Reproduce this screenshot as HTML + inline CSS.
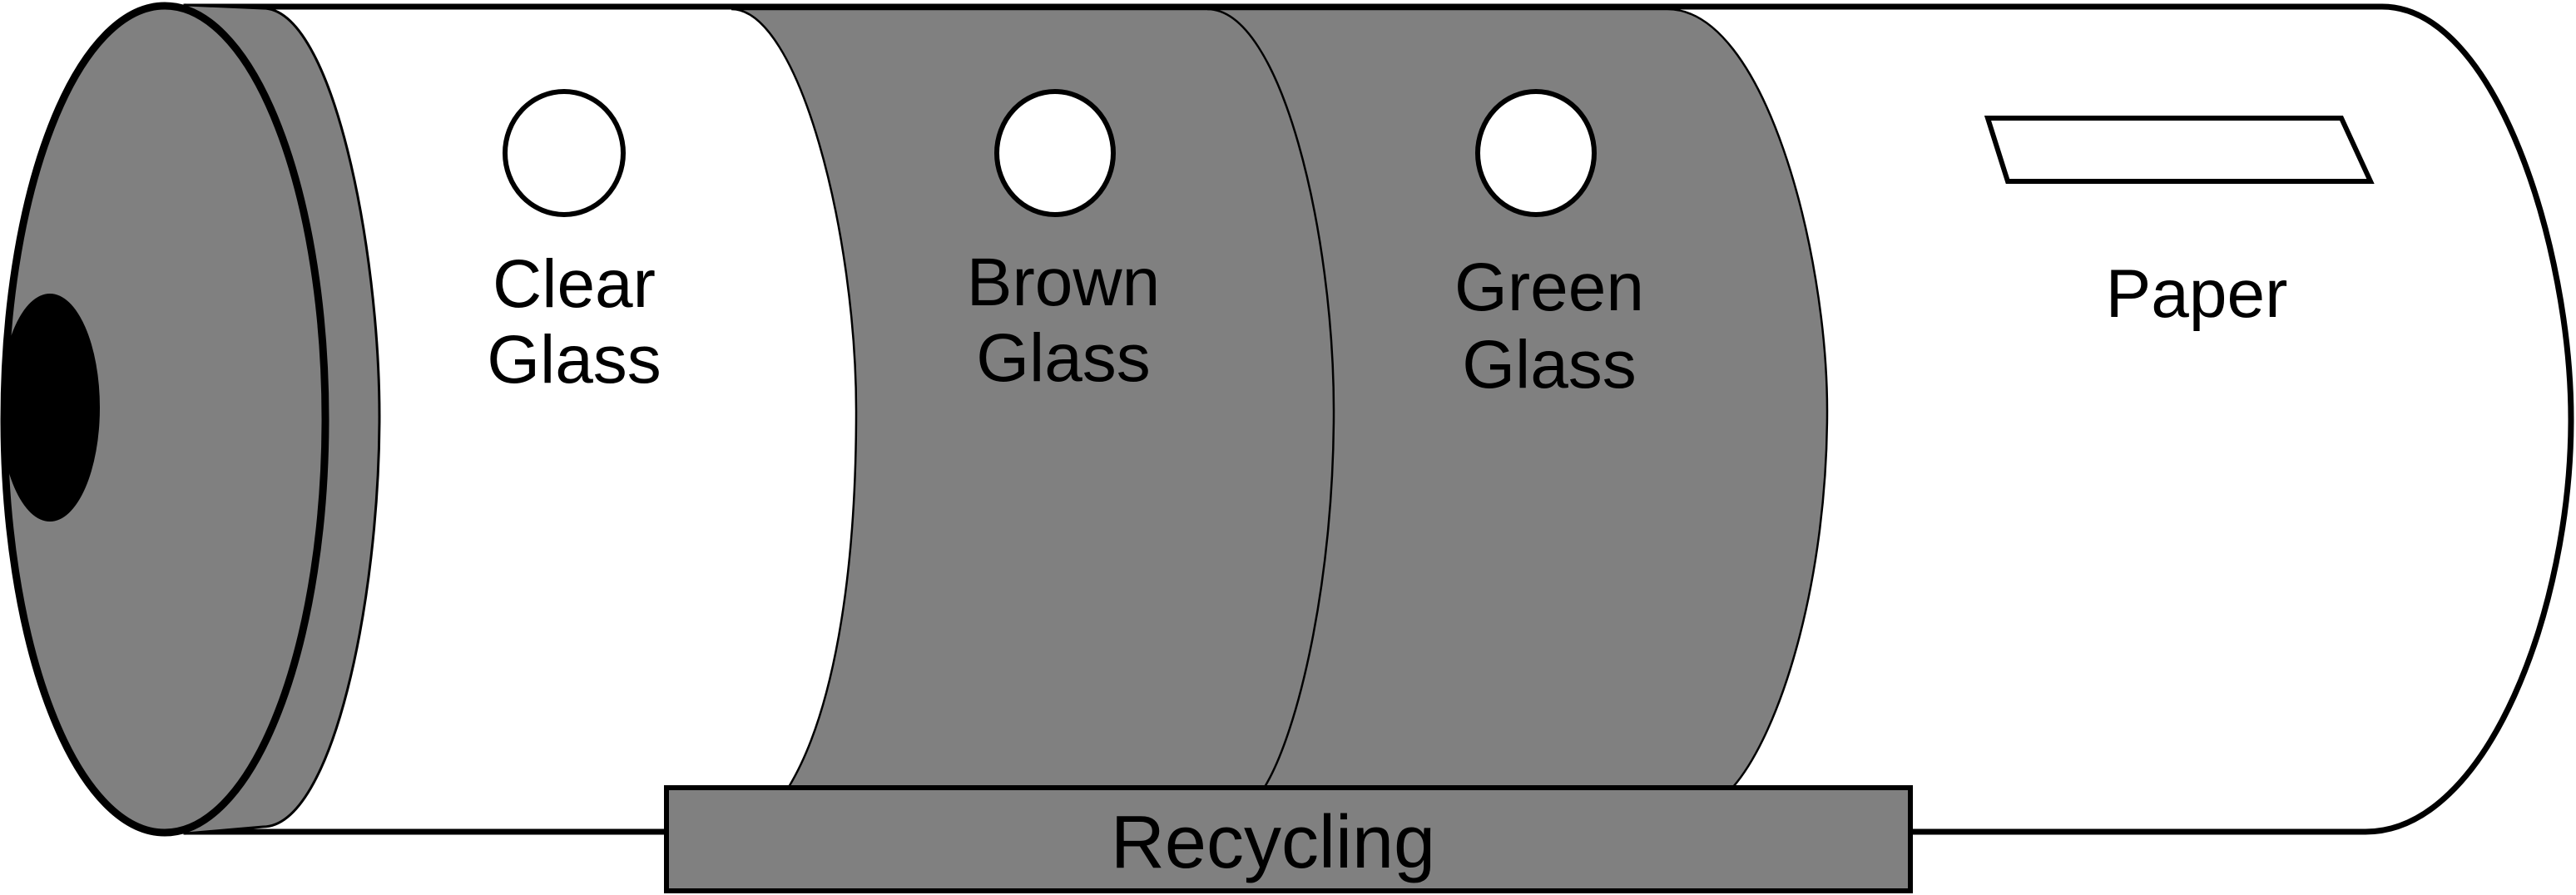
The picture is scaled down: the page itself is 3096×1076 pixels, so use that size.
<!DOCTYPE html>
<html><head><style>html,body{margin:0;padding:0;background:#fff}svg{display:block}</style></head>
<body>
<svg width="3096" height="1076" viewBox="0 0 3096 1076" xmlns="http://www.w3.org/2000/svg">
<defs><clipPath id="fc"><ellipse cx="198" cy="504" rx="193" ry="497"/></clipPath></defs>
<!-- body -->
<path d="M224,8 L2863,8 C3000,8 3090,300 3090,504 C3090,730 2990,1000 2843,1000 L224,1000 Z" fill="#fff" stroke="#000" stroke-width="7"/>
<!-- gray band -->
<path d="M879,11 L2004,11 C2120,11 2196,300 2196,494 C2196,700 2140,880 2083,946 L948,946 C1000,860 1029,700 1029,494 C1029,280 960,11 879,11 Z" fill="#808080" stroke="#000" stroke-width="2.5"/>
<path d="M1451,11 C1540,11 1603,280 1603,494 C1603,700 1560,880 1520,946" fill="none" stroke="#000" stroke-width="2.5"/>
<!-- rim -->
<path d="M224,6 L316,10 C400,10 456,300 456,500 C456,720 400,994 316,994 L224,1002 Z" fill="#808080" stroke="#000" stroke-width="3"/>
<!-- front face -->
<ellipse cx="198" cy="504" rx="193" ry="497" fill="#808080" stroke="#000" stroke-width="9"/>
<ellipse cx="60" cy="490" rx="60" ry="137" fill="#000" clip-path="url(#fc)"/>
<!-- holes -->
<ellipse cx="678" cy="184" rx="71" ry="74" fill="#fff" stroke="#000" stroke-width="6"/>
<ellipse cx="1268" cy="184" rx="70" ry="74" fill="#fff" stroke="#000" stroke-width="6"/>
<ellipse cx="1846" cy="184" rx="70" ry="74" fill="#fff" stroke="#000" stroke-width="6"/>
<polygon points="2389,142 2814,142 2849,218 2413,218" fill="#fff" stroke="#000" stroke-width="6"/>
<!-- labels -->
<g font-family="Liberation Sans, sans-serif" font-size="82" text-anchor="middle" fill="#000">
<text x="690" y="369">Clear</text><text x="690" y="460">Glass</text>
<text x="1278" y="367">Brown</text><text x="1278" y="458">Glass</text>
<text x="1862" y="373">Green</text><text x="1862" y="466">Glass</text>
<text x="2640" y="381">Paper</text>
</g>
<rect x="801" y="947" width="1495" height="124" fill="#808080" stroke="#000" stroke-width="6"/>
<text x="1530" y="1043" font-family="Liberation Sans, sans-serif" font-size="90" text-anchor="middle" fill="#000">Recycling</text>
</svg>
</body></html>
